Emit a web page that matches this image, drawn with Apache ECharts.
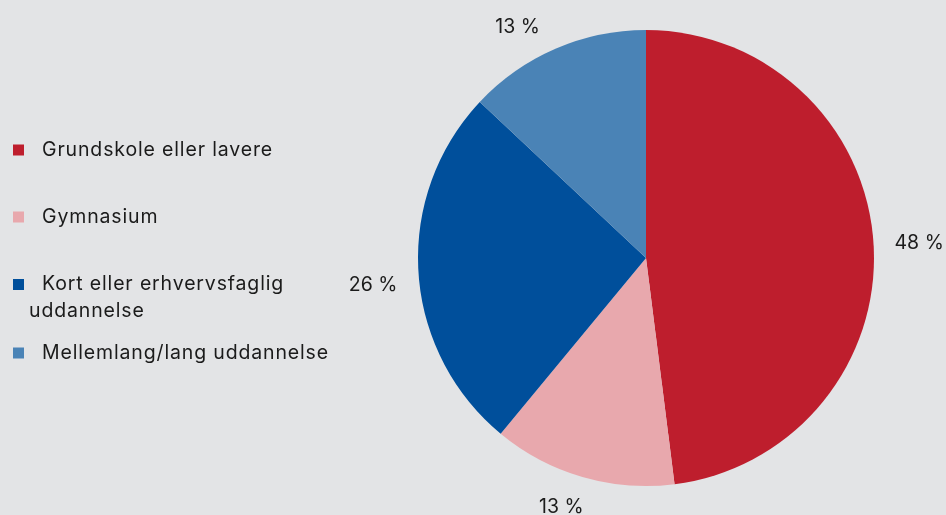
<!DOCTYPE html>
<html>
<head>
<meta charset="utf-8">
<script src="https://cdn.jsdelivr.net/npm/echarts@6/dist/echarts.min.js"></script>
<style>
  html, body { margin: 0; padding: 0; background: #e3e4e6; }
  #chart { width: 946px; height: 515px; }
</style>
</head>
<body>
<div id="chart"></div>
<script>
// Education level shares (percent)
const categories = [
  'Grundskole eller lavere',
  'Gymnasium',
  'Kort eller erhvervsfaglig uddannelse',
  'Mellemlang/lang uddannelse'
];
const shares = [48, 13, 26, 13];
const colors = ['#be1e2d', '#e8a8ad', '#004f9b', '#4a83b6'];

// Label placement outside the pie: [length, length2] and a small [dx, dy] nudge per slice
const labelLengths = [[12, 2], [28, -12], [2, 14], [24, 1]];
const labelNudge = [[2, 0], [2, 3], [0, 13], [0, 0]];

// Legend text is drawn with a slightly open tracking
const LEGEND_FONT = 'Inter, Lato, sans-serif';
const LABEL_FONT = 'Inter, sans-serif';
(function () {
  const proto = CanvasRenderingContext2D.prototype;
  const baseFillText = proto.fillText;
  proto.fillText = function (text, x, y, maxWidth) {
    const tracked = this.font.indexOf('Lato') >= 0;
    const prev = this.letterSpacing;
    if (tracked) this.letterSpacing = '0.85px';
    if (maxWidth === undefined) baseFillText.call(this, text, x, y);
    else baseFillText.call(this, text, x, y, maxWidth);
    if (tracked) this.letterSpacing = prev;
  };
})();

const chart = echarts.init(document.getElementById('chart'), null, { renderer: 'canvas' });

const TEXT_COLOR = '#1b1b1b';
const FONT_SIZE = 19.5;
const LEGEND_LINE = 70;

chart.setOption({
  backgroundColor: '#e3e4e6',
  animation: false,
  legend: {
    orient: 'vertical',
    left: 13,
    top: 115,
    padding: 0,
    itemWidth: 11,
    itemHeight: 11,
    itemGap: -3,
    icon: 'rect',
    selectedMode: false,
    textStyle: {
      fontFamily: LEGEND_FONT,
      fontSize: FONT_SIZE,
      color: TEXT_COLOR,
      lineHeight: LEGEND_LINE,
      rich: {
        n: { fontFamily: LEGEND_FONT, fontSize: FONT_SIZE, color: TEXT_COLOR, lineHeight: LEGEND_LINE, padding: [0, 0, 0, 13] },
        // wrapped second line, tucked under the first one
        u: { fontFamily: LEGEND_FONT, fontSize: FONT_SIZE, color: TEXT_COLOR, lineHeight: 1, height: 18, verticalAlign: 'bottom' }
      }
    },
    formatter: function (name) {
      if (name === categories[2]) {
        return '{n|Kort eller erhvervsfaglig}\n{u|uddannelse}';
      }
      return '{n|' + name + '}';
    },
    data: categories
  },
  series: [{
    type: 'pie',
    center: [646, 258],
    radius: 228,
    startAngle: 90,
    clockwise: true,
    avoidLabelOverlap: false,
    label: {
      show: true,
      position: 'outside',
      fontFamily: LABEL_FONT,
      fontSize: FONT_SIZE,
      color: TEXT_COLOR,
      formatter: '{c} %'
    },
    labelLine: { show: false },
    labelLayout: function (params) {
      const n = labelNudge[params.dataIndex];
      return { dx: n[0], dy: n[1] };
    },
    emphasis: { disabled: true },
    itemStyle: { borderWidth: 0 },
    data: categories.map(function (name, i) {
      return {
        name: name,
        value: shares[i],
        itemStyle: { color: colors[i] },
        labelLine: { show: false, length: labelLengths[i][0], length2: labelLengths[i][1] }
      };
    })
  }]
});
</script>
</body>
</html>
